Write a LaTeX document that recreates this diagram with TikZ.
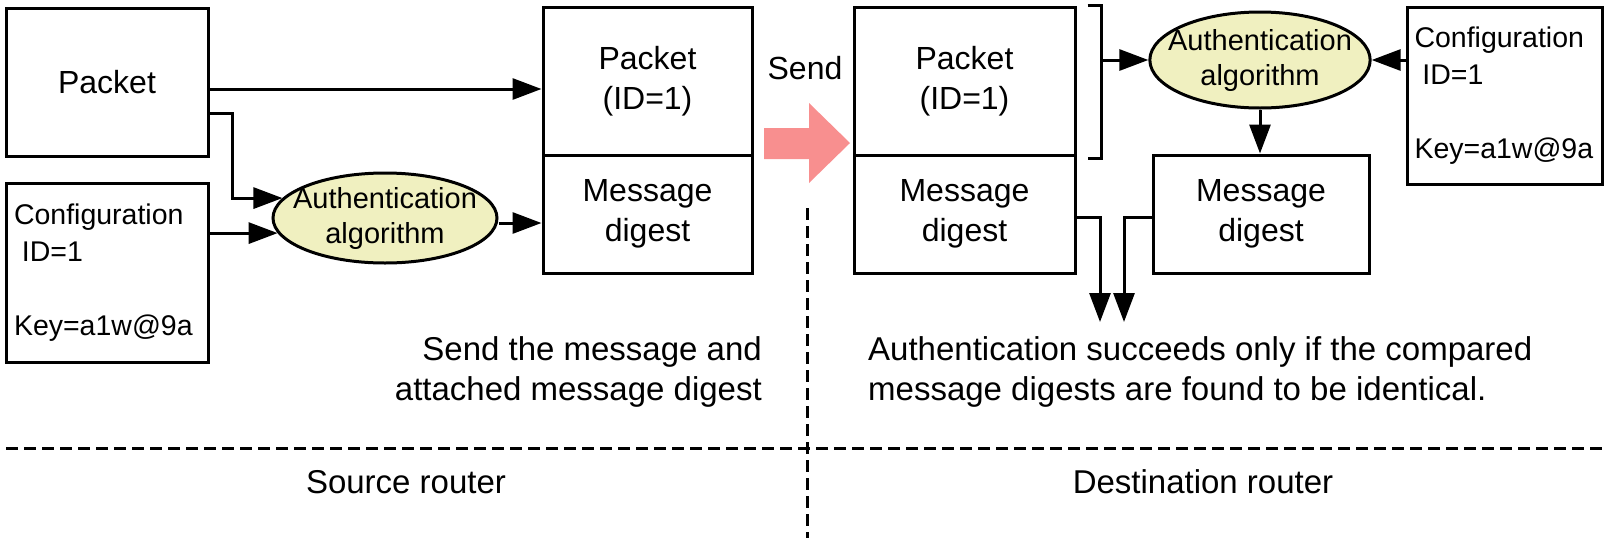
\documentclass[tikz,border=0pt]{standalone}
\usepackage{fontspec}
\setmainfont{Liberation Sans}
\usetikzlibrary{arrows.meta,shapes.geometric}
\definecolor{algfill}{RGB}{240,240,192}
\definecolor{sendpink}{RGB}{248,143,143}
\begin{document}
\begin{tikzpicture}[x=1pt,y=-1pt,
  box/.style={draw, line width=3pt, rectangle, inner sep=0pt, align=center, font=\fontsize{32}{40}\selectfont},
  cfgbox/.style={draw, line width=3pt, rectangle, inner ysep=0pt, align=left, font=\fontsize{28.5}{37}\selectfont},
  alg/.style={draw, line width=3pt, ellipse, fill=algfill, inner xsep=-14pt, inner ysep=0pt, align=center, font=\fontsize{29}{35}\selectfont},
  arr/.style={line width=3pt, -{Triangle[length=29pt,width=21pt]}},
  plain/.style={line width=3pt},
  sepline/.style={line width=3pt, dash pattern=on 12pt off 6pt},
  caption/.style={inner sep=0pt, font=\fontsize{33}{40}\selectfont},
]
\useasboundingbox (0,0) rectangle (1609,547);

% source side
\node[box, minimum width=202pt, minimum height=148pt] (pkt) at (107,82) {Packet};
\node[cfgbox, minimum width=202pt, minimum height=179pt, text width=186pt, inner xsep=8pt] (cfg) at (107,272.5)
  {Configuration\\\hspace*{0.28em}ID=1\\[37pt]Key=a1w@9a};
\node[box, minimum width=209pt, minimum height=148pt] (spkt) at (647.5,81) {Packet\\(ID=1)};
\node[box, minimum width=209pt, minimum height=118pt] (sdig) at (647.5,214) {Message\\digest};
\node[alg, minimum width=224pt, minimum height=90pt] (salg) at (385,218) {Authentication\\algorithm};

\draw[arr] ([yshift=-7pt]pkt.east) -- ([yshift=-7pt]pkt.east -| spkt.west);
\coordinate (b1) at (232,113);
\draw[arr] ([yshift=-31pt]pkt.east) -- (b1) |- (salg.169);
\draw[arr] (cfg.east |- salg.188) -- (salg.188);
\draw[arr] ([yshift=-9pt]sdig.west -| salg.east) -- ([yshift=-9pt]sdig.west);

% send
\fill[sendpink] (764,128) -- (809,128) -- (809,103) -- (850,143) -- (809,183) -- (809,159) -- (764,159) -- cycle;
\node[caption, font=\fontsize{32}{40}\selectfont] (send) at (805,68) {Send};

% destination side
\node[box, minimum width=221pt, minimum height=148pt] (dpkt) at (964.5,81) {Packet\\(ID=1)};
\node[box, minimum width=221pt, minimum height=118pt] (ddig) at (964.5,214) {Message\\digest};
\node[alg, minimum width=216pt, minimum height=96pt] (dalg) at (1260,60) {Authentication\\algorithm};
\node[cfgbox, minimum width=195pt, minimum height=177pt, text width=180pt, inner xsep=7.5pt] (dcfg) at (1504.5,95.5)
  {Configuration\\\hspace*{0.28em}ID=1\\[37pt]Key=a1w@9a};
\node[box, minimum width=216pt, minimum height=118pt] (ddig2) at (1261,214) {Message\\digest};

\coordinate (bt) at ([xshift=25pt]dpkt.north east);
\coordinate (bb) at ([xshift=25pt,yshift=-2pt]dpkt.south east);
\draw[plain] ([xshift=11pt]dpkt.north east) -- (bt) -- (bb) -- ([xshift=11pt,yshift=-2pt]dpkt.south east);
\draw[arr] (bt |- dalg.west) -- (dalg.west);
\draw[arr] (dcfg.west |- dalg.east) -- (dalg.east);
\draw[arr] (dalg.south) -- (dalg.south |- ddig2.north);

\coordinate (t1) at (1100,322);
\coordinate (t2) at (1124,322);
\draw[arr] ([yshift=-3pt]ddig.east) -| (t1);
\draw[arr] ([yshift=-3pt]ddig2.west) -| (t2);

% captions
\node[caption, anchor=north east, align=right] (srccap) at (762,336) {Send the message and\\attached message digest};
\node[caption, anchor=north west, align=left] (dstcap) at (868,336) {Authentication succeeds only if the compared\\message digests are found to be identical.};

% separators
\draw[sepline] (6,448) -- (1602,448);
\draw[sepline] (807,208) -- (807,538);
\node[caption] (srcr) at (406,482) {Source router};
\node[caption] (dstr) at (1203,482) {Destination router};
\end{tikzpicture}
\end{document}
